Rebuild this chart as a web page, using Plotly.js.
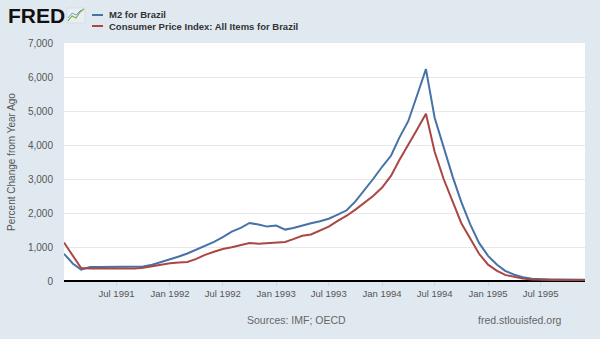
<!DOCTYPE html>
<html>
<head>
<meta charset="utf-8">
<script src="https://cdn.plot.ly/plotly-3.0.1.min.js"></script>
<style>
html,body{margin:0;padding:0;background:#e1e9f0;}
#chart{width:600px;height:339px;}
</style>
</head>
<body>
<div id="chart"></div>
<script>
var dates = [
"1991-01-01","1991-02-01","1991-03-01","1991-04-01","1991-05-01","1991-06-01","1991-07-01","1991-08-01","1991-09-01","1991-10-01","1991-11-01","1991-12-01",
"1992-01-01","1992-02-01","1992-03-01","1992-04-01","1992-05-01","1992-06-01","1992-07-01","1992-08-01","1992-09-01","1992-10-01","1992-11-01","1992-12-01",
"1993-01-01","1993-02-01","1993-03-01","1993-04-01","1993-05-01","1993-06-01","1993-07-01","1993-08-01","1993-09-01","1993-10-01","1993-11-01","1993-12-01",
"1994-01-01","1994-02-01","1994-03-01","1994-04-01","1994-05-01","1994-06-01","1994-07-01","1994-08-01","1994-09-01","1994-10-01","1994-11-01","1994-12-01",
"1995-01-01","1995-02-01","1995-03-01","1995-04-01","1995-05-01","1995-06-01","1995-07-01","1995-08-01","1995-09-01","1995-10-01","1995-11-01","1995-12-01"
];
var m2Brazil = [
800,508,333,410,415,418,420,422,425,430,480,556,
640,720,810,920,1040,1150,1290,1450,1560,1707,1660,1600,
1629,1512,1560,1640,1700,1760,1830,1950,2080,2340,2660,3000,
3360,3690,4210,4700,5450,6230,4800,3920,3070,2320,1660,1120,
740,480,300,185,110,65,48,44,42,40,38,36
];
var cpiBrazil = [
1130,755,380,370,365,362,360,362,365,390,440,490,
520,545,560,650,770,860,940,995,1070,1120,1095,1110,
1140,1150,1230,1330,1370,1480,1600,1770,1920,2100,2300,2500,
2750,3100,3550,3990,4450,4920,3800,3000,2330,1700,1240,800,
480,300,180,125,70,42,32,26,24,23,22,22
];
var tickDates = ["1991-07-01","1992-01-01","1992-07-01","1993-01-01","1993-07-01","1994-01-01","1994-07-01","1995-01-01","1995-07-01"];
var tickLabels = ["Jul 1991","Jan 1992","Jul 1992","Jan 1993","Jul 1993","Jan 1994","Jul 1994","Jan 1995","Jul 1995"];
var seriesNames = ["M2 for Brazil", "Consumer Price Index: All Items for Brazil"];
var seriesColors = ["#4572a7", "#aa4643"];
var yTitle = "Percent Change from Year Ago";
var sourceText = "Sources: IMF; OECD";
var siteText = "fred.stlouisfed.org";

var traces = [
  {x: dates, y: m2Brazil, type: "scatter", mode: "lines", name: seriesNames[0],
   line: {color: seriesColors[0], width: 2}, showlegend: false},
  {x: dates, y: cpiBrazil, type: "scatter", mode: "lines", name: seriesNames[1],
   line: {color: seriesColors[1], width: 2}, showlegend: false}
];

// pixel -> paper helpers (plot area: x 64..585, y 43..281)
function px(x){ return (x - 64) / 521; }
function py(y){ return (281 - y) / 238; }

var font = "Liberation Sans, Arial, Helvetica, sans-serif";
var layout = {
  width: 600, height: 339,
  paper_bgcolor: "#e1e9f0",
  plot_bgcolor: "#ffffff",
  margin: {l: 64, r: 15, t: 43, b: 58},
  font: {family: font, color: "#555555", size: 10},
  xaxis: {
    type: "date",
    range: ["1991-01-01", "1995-12-01"],
    tickmode: "array", tickvals: tickDates, ticktext: tickLabels,
    showgrid: false,
    ticks: "outside", ticklen: 4, tickcolor: "#ccd6df",
    tickfont: {size: 9.5, color: "#555555"},
    showline: false, zeroline: false
  },
  yaxis: {
    range: [0, 7000],
    dtick: 1000,
    tickformat: ",d",
    showgrid: true, gridcolor: "#e8e8e8", gridwidth: 1,
    zeroline: true, zerolinecolor: "#000000", zerolinewidth: 2,
    tickfont: {size: 10, color: "#555555"},
    ticks: "", ticklabelstandoff: 10,
    title: {text: yTitle, font: {size: 10, color: "#555555"}, standoff: 10}
  },
  shapes: [
    {type: "line", xref: "paper", yref: "paper",
     x0: px(92), x1: px(103), y0: py(15), y1: py(15),
     line: {color: seriesColors[0], width: 2}},
    {type: "line", xref: "paper", yref: "paper",
     x0: px(92), x1: px(103), y0: py(26), y1: py(26),
     line: {color: seriesColors[1], width: 2}},
    // FRED logo icon
    {type: "rect", xref: "paper", yref: "paper",
     x0: px(67), x1: px(85), y0: py(8), y1: py(23),
     fillcolor: "#e9eef2", line: {color: "#c8d2da", width: 0.5}},
    {type: "path", xref: "paper", yref: "paper",
     path: "M " + px(68) + "," + py(21) + " L " + px(72) + "," + py(16) +
           " L " + px(76) + "," + py(18) + " L " + px(80) + "," + py(12) +
           " L " + px(84) + "," + py(9),
     line: {color: "#7bb04a", width: 1.2}},
    {type: "path", xref: "paper", yref: "paper",
     path: "M " + px(68) + "," + py(18) + " L " + px(72) + "," + py(13) +
           " L " + px(76) + "," + py(15) + " L " + px(81) + "," + py(10),
     line: {color: "#7aa3c8", width: 1}}
  ],
  annotations: [
    {xref: "paper", yref: "paper", x: px(6), y: py(16), xanchor: "left", yanchor: "middle",
     text: "<b>FRED</b>", showarrow: false, font: {family: font, size: 21, color: "#111111"}},
    {xref: "paper", yref: "paper", x: px(107), y: py(15), xanchor: "left", yanchor: "middle",
     text: "<b>" + seriesNames[0] + "</b>", showarrow: false, font: {family: font, size: 9.5, color: "#333333"}},
    {xref: "paper", yref: "paper", x: px(107), y: py(26), xanchor: "left", yanchor: "middle",
     text: "<b>" + seriesNames[1] + "</b>", showarrow: false, font: {family: font, size: 9.5, color: "#333333"}},
    {xref: "paper", yref: "paper", x: px(296), y: py(320), xanchor: "center", yanchor: "middle",
     text: sourceText, showarrow: false, font: {family: font, size: 10.5, color: "#666666"}},
    {xref: "paper", yref: "paper", x: px(520), y: py(320), xanchor: "center", yanchor: "middle",
     text: siteText, showarrow: false, font: {family: font, size: 10.5, color: "#666666"}}
  ]
};

Plotly.newPlot("chart", traces, layout, {displayModeBar: false, staticPlot: true});
</script>
</body>
</html>
